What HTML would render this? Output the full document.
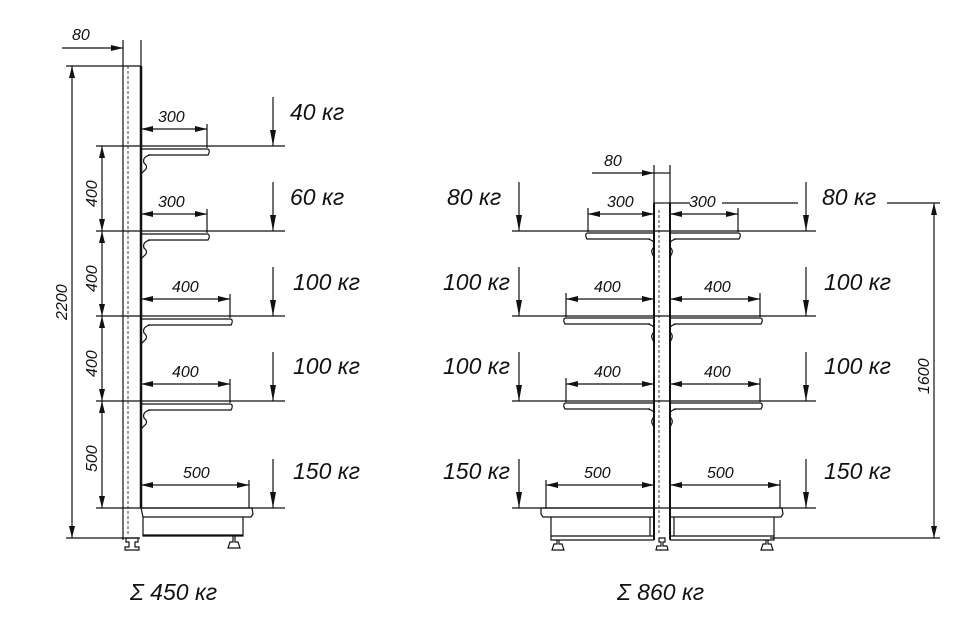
<!DOCTYPE html>
<html><head><meta charset="utf-8"><style>
html,body{margin:0;padding:0;background:#fff;}
svg{display:block;}
text{font-family:"Liberation Sans",sans-serif;font-style:italic;fill:#111;}
.w{font-size:23px;}
.d{font-size:16px;}
</style></head><body>
<svg width="970" height="640" viewBox="0 0 970 640" xmlns="http://www.w3.org/2000/svg">
<defs>
<marker id="a" viewBox="0 0 12 6" refX="12" refY="3" markerWidth="12" markerHeight="6" orient="auto-start-reverse" markerUnits="userSpaceOnUse"><path d="M0,0 L12,3 L0,6 Z" fill="#111"/></marker>
<marker id="b" viewBox="0 0 6 16" refX="3" refY="16" markerWidth="6" markerHeight="16" orient="0" markerUnits="userSpaceOnUse"><path d="M0,0 L3,16 L6,0 Z" fill="#111"/></marker>
</defs>
<g stroke="#111" fill="none" stroke-width="1.2">
<!-- LEFT UNIT -->
<line x1="123" y1="40" x2="123" y2="540"/>
<line x1="128" y1="66" x2="128" y2="535" stroke-dasharray="3,2" stroke-width="0.8"/>
<line x1="141" y1="40" x2="141" y2="66"/>
<line x1="141" y1="66" x2="141" y2="508" stroke-width="2.5"/>
<line x1="66" y1="66" x2="141" y2="66"/>
<line x1="62" y1="48" x2="123" y2="48" marker-end="url(#a)"/>
<line x1="72" y1="66" x2="72" y2="538" marker-start="url(#a)" marker-end="url(#a)"/>
<line x1="66" y1="538" x2="140" y2="538"/>
<line x1="96" y1="146" x2="285" y2="146"/>
<line x1="96" y1="231" x2="285" y2="231"/>
<line x1="96" y1="316" x2="285" y2="316"/>
<line x1="96" y1="401" x2="285" y2="401"/>
<line x1="96" y1="508" x2="285" y2="508"/>
<line x1="102" y1="146" x2="102" y2="231" marker-start="url(#a)" marker-end="url(#a)"/>
<line x1="102" y1="231" x2="102" y2="316" marker-start="url(#a)" marker-end="url(#a)"/>
<line x1="102" y1="316" x2="102" y2="401" marker-start="url(#a)" marker-end="url(#a)"/>
<line x1="102" y1="401" x2="102" y2="508" marker-start="url(#a)" marker-end="url(#a)"/>
<path d="M141,149 H207 q3,0 2,4 l-1,2 H148 M150,155 q-8,2 -6,8 q5,4 0,8 l-3,3" />
<path d="M141,234 H207 q3,0 2,4 l-1,2 H148 M150,240 q-8,2 -6,8 q5,4 0,8 l-3,3" />
<path d="M141,319 H230 q3,0 2,4 l-1,2 H148 M150,325 q-8,2 -6,8 q5,4 0,8 l-3,3" />
<path d="M141,404 H230 q3,0 2,4 l-1,2 H148 M150,410 q-8,2 -6,8 q5,4 0,8 l-3,3" />
<line x1="207" y1="124" x2="207" y2="148"/><line x1="141" y1="129" x2="207" y2="129" marker-start="url(#a)" marker-end="url(#a)"/>
<line x1="207" y1="209" x2="207" y2="233"/><line x1="141" y1="214" x2="207" y2="214" marker-start="url(#a)" marker-end="url(#a)"/>
<line x1="230" y1="294" x2="230" y2="318"/><line x1="141" y1="299" x2="230" y2="299" marker-start="url(#a)" marker-end="url(#a)"/>
<line x1="230" y1="379" x2="230" y2="403"/><line x1="141" y1="384" x2="230" y2="384" marker-start="url(#a)" marker-end="url(#a)"/>
<line x1="249" y1="480" x2="249" y2="508"/><line x1="141" y1="485" x2="249" y2="485" marker-start="url(#a)" marker-end="url(#a)"/>
<path d="M141,508 H252 l1,6 l-2,3 H143 Z"/>
<path d="M143,517 V536 H243 V517"/>
<line x1="143" y1="535" x2="243" y2="535"/>
<path d="M126,538 h12 v4 h-3 v5 h4 v3 h-14 v-3 h4 v-5 h-3 Z"/>
<path d="M233,536 v6 h-3 l-2,6 h12 l-2,-6 h-3 v-6"/>
<line x1="273" y1="97" x2="273" y2="146" marker-end="url(#b)"/>
<line x1="273" y1="182" x2="273" y2="231" marker-end="url(#b)"/>
<line x1="273" y1="267" x2="273" y2="316" marker-end="url(#b)"/>
<line x1="273" y1="352" x2="273" y2="401" marker-end="url(#b)"/>
<line x1="273" y1="459" x2="273" y2="508" marker-end="url(#b)"/>

<!-- RIGHT UNIT -->
<line x1="654" y1="165" x2="654" y2="203"/>
<line x1="670" y1="165" x2="670" y2="203"/>
<line x1="654" y1="203" x2="654" y2="540" stroke-width="2"/>
<line x1="670" y1="203" x2="670" y2="540" stroke-width="2"/>
<line x1="659" y1="210" x2="659" y2="535" stroke-dasharray="3,2" stroke-width="0.8"/>
<line x1="654" y1="203" x2="670" y2="203"/>
<line x1="592" y1="173" x2="654" y2="173" marker-end="url(#a)"/>
<line x1="654" y1="173" x2="670" y2="173"/>
<line x1="670" y1="203" x2="690" y2="203"/><line x1="722" y1="203" x2="798" y2="203"/>
<line x1="887" y1="203" x2="940" y2="203"/>
<line x1="934" y1="203" x2="934" y2="538" marker-start="url(#a)" marker-end="url(#a)"/>
<line x1="770" y1="538" x2="940" y2="538"/>
<line x1="512" y1="231" x2="816" y2="231"/>
<line x1="512" y1="316" x2="816" y2="316"/>
<line x1="512" y1="401" x2="816" y2="401"/>
<line x1="512" y1="508" x2="816" y2="508"/>
<path d="M654,233 H588 q-3,0 -2,4 l1,2 H650 M648,239 q8,2 6,8 q-4,4 -1,8 l1,3" />
<path d="M654,318 H566 q-3,0 -2,4 l1,2 H650 M648,324 q8,2 6,8 q-4,4 -1,8 l1,3" />
<path d="M654,403 H566 q-3,0 -2,4 l1,2 H650 M648,409 q8,2 6,8 q-4,4 -1,8 l1,3" />
<path d="M670,233 H738 q3,0 2,4 l-1,2 H674 M676,239 q-8,2 -6,8 q4,4 1,8 l-1,3" />
<path d="M670,318 H760 q3,0 2,4 l-1,2 H674 M676,324 q-8,2 -6,8 q4,4 1,8 l-1,3" />
<path d="M670,403 H760 q3,0 2,4 l-1,2 H674 M676,409 q-8,2 -6,8 q4,4 1,8 l-1,3" />
<line x1="588" y1="208" x2="588" y2="232"/><line x1="588" y1="214" x2="654" y2="214" marker-start="url(#a)" marker-end="url(#a)"/>
<line x1="738" y1="208" x2="738" y2="232"/><line x1="670" y1="214" x2="738" y2="214" marker-start="url(#a)" marker-end="url(#a)"/>
<line x1="566" y1="293" x2="566" y2="317"/><line x1="566" y1="299" x2="654" y2="299" marker-start="url(#a)" marker-end="url(#a)"/>
<line x1="760" y1="293" x2="760" y2="317"/><line x1="670" y1="299" x2="760" y2="299" marker-start="url(#a)" marker-end="url(#a)"/>
<line x1="566" y1="378" x2="566" y2="402"/><line x1="566" y1="384" x2="654" y2="384" marker-start="url(#a)" marker-end="url(#a)"/>
<line x1="760" y1="378" x2="760" y2="402"/><line x1="670" y1="384" x2="760" y2="384" marker-start="url(#a)" marker-end="url(#a)"/>
<line x1="546" y1="480" x2="546" y2="508"/><line x1="546" y1="485" x2="654" y2="485" marker-start="url(#a)" marker-end="url(#a)"/>
<line x1="780" y1="480" x2="780" y2="508"/><line x1="670" y1="485" x2="780" y2="485" marker-start="url(#a)" marker-end="url(#a)"/>
<path d="M541,508 H654 V517 H543 l-2,-3 Z"/>
<path d="M670,508 H782 l1,6 l-2,3 H670 Z"/>
<path d="M551,517 V540 H654 M551,536 H654 M650,517 V536"/>
<path d="M774,517 V540 H670 M774,536 H670 M674,517 V536"/>
<path d="M557,540 v4 h-3 l-2,6 h12 l-2,-6 h-3 v-4"/>
<path d="M659,538 v4 h2 v4 h-4 l-1,4 h12 l-1,-4 h-4 v-4 h2 v-4 Z"/>
<path d="M766,540 v4 h-3 l-2,6 h12 l-2,-6 h-3 v-4"/>
<line x1="519" y1="182" x2="519" y2="231" marker-end="url(#b)"/>
<line x1="519" y1="267" x2="519" y2="316" marker-end="url(#b)"/>
<line x1="519" y1="352" x2="519" y2="401" marker-end="url(#b)"/>
<line x1="519" y1="459" x2="519" y2="508" marker-end="url(#b)"/>
<line x1="806" y1="182" x2="806" y2="231" marker-end="url(#b)"/>
<line x1="806" y1="267" x2="806" y2="316" marker-end="url(#b)"/>
<line x1="806" y1="352" x2="806" y2="401" marker-end="url(#b)"/>
<line x1="806" y1="459" x2="806" y2="508" marker-end="url(#b)"/>
</g>
<text class="d" x="72" y="40">80</text>
<text class="d" transform="translate(67,320) rotate(-90)">2200</text>
<text class="d" transform="translate(97,207) rotate(-90)">400</text>
<text class="d" transform="translate(97,292) rotate(-90)">400</text>
<text class="d" transform="translate(97,377) rotate(-90)">400</text>
<text class="d" transform="translate(97,472) rotate(-90)">500</text>
<text class="d" x="158" y="122">300</text>
<text class="d" x="158" y="207">300</text>
<text class="d" x="172" y="292">400</text>
<text class="d" x="172" y="377">400</text>
<text class="d" x="183" y="478">500</text>
<text class="w" x="290" y="120">40 кг</text>
<text class="w" x="290" y="205">60 кг</text>
<text class="w" x="293" y="290">100 кг</text>
<text class="w" x="293" y="374">100 кг</text>
<text class="w" x="293" y="479">150 кг</text>
<text class="w" x="130" y="600">Σ 450 кг</text>
<text class="d" x="604" y="166">80</text>
<text class="d" x="607" y="207">300</text>
<text class="d" x="689" y="207">300</text>
<text class="d" x="594" y="292">400</text>
<text class="d" x="704" y="292">400</text>
<text class="d" x="594" y="377">400</text>
<text class="d" x="704" y="377">400</text>
<text class="d" x="584" y="478">500</text>
<text class="d" x="707" y="478">500</text>
<text class="d" transform="translate(929,394) rotate(-90)">1600</text>
<text class="w" x="447" y="205">80 кг</text>
<text class="w" x="443" y="290">100 кг</text>
<text class="w" x="443" y="374">100 кг</text>
<text class="w" x="443" y="479">150 кг</text>
<text class="w" x="822" y="205">80 кг</text>
<text class="w" x="824" y="290">100 кг</text>
<text class="w" x="824" y="374">100 кг</text>
<text class="w" x="824" y="479">150 кг</text>
<text class="w" x="617" y="600">Σ 860 кг</text>
</svg>
</body></html>
